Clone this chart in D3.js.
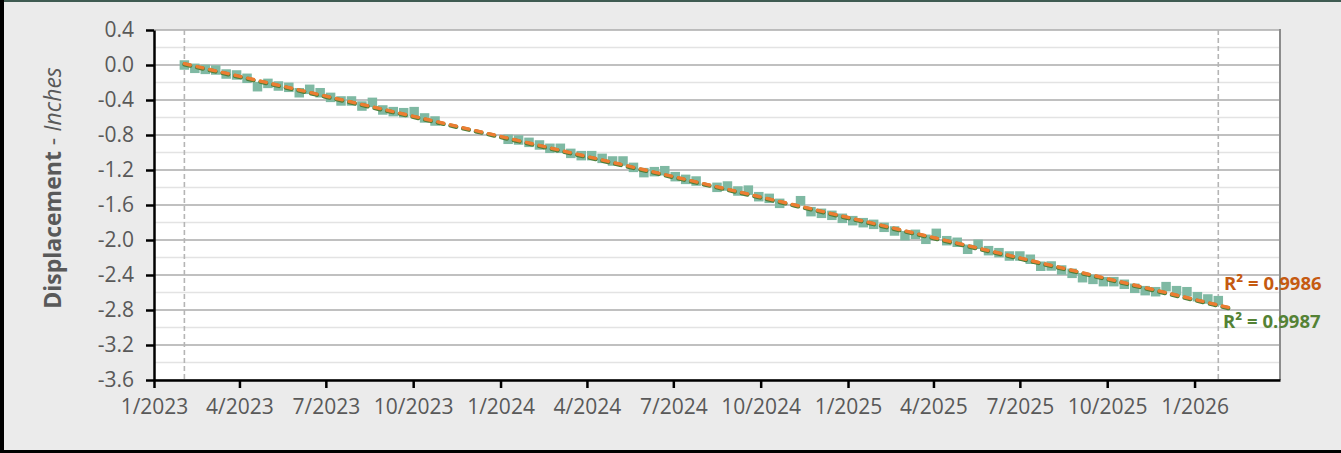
<!DOCTYPE html>
<html>
<head>
<meta charset="utf-8">
<script src="https://cdn.jsdelivr.net/npm/d3@7"></script>
<style>
html,body{margin:0;padding:0;background:#EBEBEB;}
svg{display:block;}
</style>
</head>
<body>
<svg id="chart" width="1341" height="453"></svg>
<script>
// ---------- data ----------
const dates = [
 "2023-02-02","2023-02-13","2023-02-24","2023-03-07","2023-03-18","2023-03-29","2023-04-09","2023-04-20",
 "2023-05-01","2023-05-12","2023-05-23","2023-06-03","2023-06-14","2023-06-25","2023-07-06","2023-07-17",
 "2023-07-28","2023-08-08","2023-08-19","2023-08-30","2023-09-10","2023-09-21","2023-10-02","2023-10-13",
 "2023-10-24",
 "2024-01-09","2024-01-20","2024-01-31","2024-02-11","2024-02-22","2024-03-04","2024-03-15","2024-03-26",
 "2024-04-06","2024-04-17","2024-04-28","2024-05-09","2024-05-20","2024-05-31","2024-06-11","2024-06-22",
 "2024-07-03","2024-07-14","2024-07-25",
 "2024-08-16","2024-08-27","2024-09-07","2024-09-18","2024-09-29","2024-10-10","2024-10-21",
 "2024-11-12","2024-11-23","2024-12-04","2024-12-15","2024-12-26","2025-01-06","2025-01-17","2025-01-28",
 "2025-02-08","2025-02-19","2025-03-02","2025-03-13","2025-03-24","2025-04-04","2025-04-15","2025-04-26",
 "2025-05-07","2025-05-18","2025-05-29","2025-06-09","2025-06-20","2025-07-01","2025-07-12","2025-07-23",
 "2025-08-03","2025-08-14","2025-08-25","2025-09-05","2025-09-16","2025-09-27","2025-10-08","2025-10-19",
 "2025-10-30","2025-11-10","2025-11-21","2025-12-02","2025-12-13","2025-12-24","2026-01-04","2026-01-15",
 "2026-01-26"
];
const displacement = [
 0.000,-0.038,-0.050,-0.057,-0.103,-0.114,-0.152,-0.248,
 -0.210,-0.240,-0.255,-0.317,-0.278,-0.317,-0.370,-0.411,
 -0.411,-0.469,-0.427,-0.514,-0.533,-0.545,-0.533,-0.605,
 -0.640,
 -0.849,-0.857,-0.884,-0.914,-0.952,-0.952,-1.010,-1.036,
 -1.036,-1.067,-1.097,-1.097,-1.170,-1.230,-1.219,-1.208,
 -1.276,-1.307,-1.326,
 -1.398,-1.383,-1.440,-1.430,-1.505,-1.524,-1.581,
 -1.551,-1.676,-1.695,-1.718,-1.752,-1.779,-1.802,-1.821,
 -1.855,-1.897,-1.951,-1.935,-1.992,-1.924,-2.008,-2.026,
 -2.106,-2.049,-2.122,-2.145,-2.183,-2.183,-2.220,-2.300,
 -2.297,-2.343,-2.381,-2.431,-2.450,-2.476,-2.476,-2.506,
 -2.552,-2.579,-2.591,-2.533,-2.579,-2.591,-2.648,-2.674,
 -2.693
];
const yTickValues = [0.4,0.0,-0.4,-0.8,-1.2,-1.6,-2.0,-2.4,-2.8,-3.2,-3.6];
const yTickLabels = ["0.4","0.0","-0.4","-0.8","-1.2","-1.6","-2.0","-2.4","-2.8","-3.2","-3.6"];
const xTickDates = ["2023-01-01","2023-04-01","2023-07-01","2023-10-01","2024-01-01","2024-04-01","2024-07-01",
 "2024-10-01","2025-01-01","2025-04-01","2025-07-01","2025-10-01","2026-01-01"];
const xTickLabels = ["1/2023","4/2023","7/2023","10/2023","1/2024","4/2024","7/2024","10/2024","1/2025",
 "4/2025","7/2025","10/2025","1/2026"];
const xDomain = ["2023-01-01","2026-04-01"];
const yDomain = [-3.6, 0.4];
const r2Labels = ["R\u00B2 = 0.9986","R\u00B2 = 0.9987"];
const yTitleParts = ["Displacement"," - ","Inches"];

// ---------- setup ----------
const parse = d3.utcParse("%Y-%m-%d");
const pts = dates.map((d,i)=>({date:parse(d), value:displacement[i]}));
const svg = d3.select("#chart");
const W = 1341, H = 453;
const plot = {left:154, right:1280, top:30, bottom:380};
const x = d3.scaleUtc().domain(xDomain.map(parse)).range([plot.left, plot.right]);
const y = d3.scaleLinear().domain(yDomain).range([plot.bottom, plot.top]);

const font = "'Open Sans', 'Noto Sans', sans-serif";
const grey = "#595959";

// outer background and frame
svg.append("rect").attr("x",0).attr("y",0).attr("width",W).attr("height",H).attr("fill","#EBEBEB");
svg.append("line").attr("x1",0).attr("x2",W).attr("y1",1).attr("y2",1).attr("stroke","#3F5B52").attr("stroke-width",2);
svg.append("line").attr("x1",2).attr("x2",2).attr("y1",0).attr("y2",H).attr("stroke","#000").attr("stroke-width",4);
svg.append("line").attr("x1",0).attr("x2",W).attr("y1",H-1.5).attr("y2",H-1.5).attr("stroke","#000").attr("stroke-width",3);

// plot area
svg.append("rect").attr("x",plot.left).attr("y",plot.top).attr("width",plot.right-plot.left)
  .attr("height",plot.bottom-plot.top).attr("fill","#fff");

// minor gridlines
const minor = d3.range(0,20).map(i=>yDomain[0]+0.2+i*0.4).filter(v=>v<yDomain[1]);
svg.append("g").selectAll("line").data(minor).join("line")
  .attr("x1",plot.left).attr("x2",plot.right).attr("y1",d=>y(d)).attr("y2",d=>y(d))
  .attr("stroke","#E3E3E3").attr("stroke-width",1.5);
// major gridlines
svg.append("g").selectAll("line").data(yTickValues).join("line")
  .attr("x1",plot.left).attr("x2",plot.right).attr("y1",d=>y(d)).attr("y2",d=>y(d))
  .attr("stroke","#ABABAB").attr("stroke-width",1.6);
// right border
svg.append("line").attr("x1",plot.right).attr("x2",plot.right).attr("y1",plot.top-1).attr("y2",plot.bottom)
  .attr("stroke","#8C8C8C").attr("stroke-width",2);

// vertical dashed lines at first & last observation
const extent = d3.extent(pts, d=>d.date);
svg.append("g").selectAll("line").data(extent).join("line")
  .attr("x1",d=>x(d)).attr("x2",d=>x(d)).attr("y1",plot.top).attr("y2",plot.bottom)
  .attr("stroke","#B5B5B5").attr("stroke-width",1.6).attr("stroke-dasharray","5,3");

// markers
const sz = 9.5;
svg.append("g").selectAll("rect").data(pts).join("rect")
  .attr("x",d=>x(d.date)-sz/2).attr("y",d=>y(d.value)-sz/2).attr("width",sz).attr("height",sz)
  .attr("fill","#7FB9A3");

// polynomial trendline (least squares) computed from the data
function polyfit(xs, ys, order){
  const n = order+1;
  const A = Array.from({length:n},()=>new Array(n).fill(0));
  const b = new Array(n).fill(0);
  xs.forEach((xv,k)=>{
    for(let i=0;i<n;i++){
      b[i]+=ys[k]*Math.pow(xv,i);
      for(let j=0;j<n;j++) A[i][j]+=Math.pow(xv,i+j);
    }
  });
  for(let i=0;i<n;i++){
    let p=i; for(let r=i+1;r<n;r++) if(Math.abs(A[r][i])>Math.abs(A[p][i])) p=r;
    [A[i],A[p]]=[A[p],A[i]]; [b[i],b[p]]=[b[p],b[i]];
    for(let r=i+1;r<n;r++){const f=A[r][i]/A[i][i]; for(let c=i;c<n;c++) A[r][c]-=f*A[i][c]; b[r]-=f*b[i];}
  }
  const c=new Array(n).fill(0);
  for(let i=n-1;i>=0;i--){let s=b[i]; for(let j=i+1;j<n;j++) s-=A[i][j]*c[j]; c[i]=s/A[i][i];}
  return c;
}
const t0 = extent[0].getTime(), day = 86400000;
const ts = pts.map(d=>(d.date.getTime()-t0)/day/100);
const vs = pts.map(d=>d.value);
const tEnd = (extent[1].getTime()-t0)/day/100 + 0.13;
function trendPoints(coef){
  return d3.range(0, 61).map(i=>{
    const t = tEnd*i/60;
    return {date:new Date(t0+t*100*day), value:coef.reduce((s,c,k)=>s+c*Math.pow(t,k),0)};
  });
}
const line = d3.line().x(d=>x(d.date)).y(d=>y(d.value));
const greenCoef = polyfit(ts, vs, 2);
const orangeCoef = polyfit(ts, vs, 2);
svg.append("path").datum(trendPoints(greenCoef)).attr("d",line).attr("fill","none")
  .attr("stroke","#4E7F3A").attr("stroke-width",4.2).attr("stroke-dasharray","6,7").attr("stroke-linecap","round")
  .attr("transform","translate(0,0.7)");
svg.append("path").datum(trendPoints(orangeCoef)).attr("d",line).attr("fill","none")
  .attr("stroke","#ED7D31").attr("stroke-width",3.4).attr("stroke-dasharray","6,7").attr("stroke-linecap","round");

// axes
const yAxis = d3.axisLeft(y).tickValues(yTickValues).tickSize(8).tickSizeOuter(0)
  .tickFormat((d,i)=>yTickLabels[i]).tickPadding(12);
const gy = svg.append("g").attr("transform",`translate(${plot.left},0)`).call(yAxis);
gy.select(".domain").attr("stroke","#000").attr("stroke-width",2.5);
gy.selectAll(".tick line").attr("stroke","#000").attr("stroke-width",2.5);
gy.selectAll(".tick text").attr("fill",grey).style("font-family",font).style("font-size","21px");

const xAxis = d3.axisBottom(x).tickValues(xTickDates.map(parse)).tickSize(8).tickSizeOuter(0)
  .tickFormat((d,i)=>xTickLabels[i]).tickPadding(11);
const gx = svg.append("g").attr("transform",`translate(0,${plot.bottom})`).call(xAxis);
gx.select(".domain").attr("stroke","#000").attr("stroke-width",2.5);
gx.selectAll(".tick line").attr("stroke","#000").attr("stroke-width",2.5);
gx.selectAll(".tick text").attr("fill",grey).style("font-family",font).style("font-size","21px");

// y title
const yt = svg.append("text").attr("transform","translate(61,188) rotate(-90)")
  .attr("text-anchor","middle").attr("fill",grey).style("font-family",font).style("font-size","23px");
yt.append("tspan").attr("font-weight","bold").text(yTitleParts[0]);
yt.append("tspan").text(yTitleParts[1]);
yt.append("tspan").attr("font-style","italic").text(yTitleParts[2]);

// R² labels
svg.append("text").attr("x",1224).attr("y",290).attr("fill","#C55A11").attr("font-weight","bold")
  .style("font-family",font).style("font-size","18.5px").text(r2Labels[0]);
svg.append("text").attr("x",1223).attr("y",328).attr("fill","#548235").attr("font-weight","bold")
  .style("font-family",font).style("font-size","18.5px").text(r2Labels[1]);
</script>
</body>
</html>
